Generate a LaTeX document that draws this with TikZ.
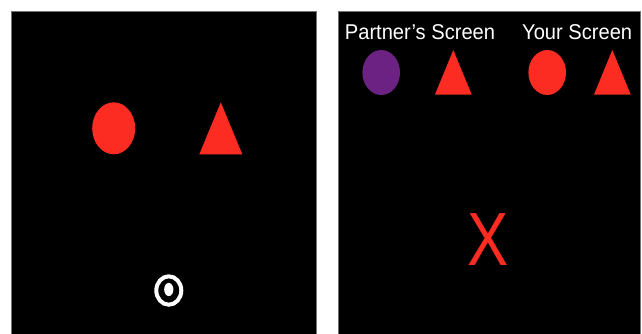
\documentclass[tikz,border=0pt]{standalone}
\usepackage{fontspec}
\setmainfont{Liberation Sans}
\definecolor{shapered}{RGB}{252,44,34}
\definecolor{shapepurple}{RGB}{108,34,130}
\begin{document}
\begin{tikzpicture}[x=1pt,y=-1pt,
  panel/.style={fill=black,draw=black!55,line width=0.6pt},
  label/.style={text=white,font=\fontsize{21.4}{24}\selectfont,inner sep=0pt,xscale=0.94,anchor=base},
  redshape/.style={fill=shapered},
  purpleshape/.style={fill=shapepurple}]
\useasboundingbox (0,0) rectangle (642,333);
\fill[white] (0,0) rectangle (642,333);
% panels
\filldraw[panel] (11.5,11.5) rectangle (316,340);
\filldraw[panel] (338,11.5) rectangle (640,340);
% left panel
\fill[redshape] (113.7,128.3) ellipse [x radius=21.5, y radius=26];
\fill[redshape] (220.8,102.3) -- (242.3,154.3) -- (199.3,154.3) -- cycle;
\draw[white,line width=4] (168.8,290.5) ellipse [x radius=12.5, y radius=14.2];
\fill[white] (168.8,289.5) ellipse [x radius=4.6, y radius=6.6];
% right panel
\node[label] (partner) at (420,39.3) {Partner’s Screen};
\node[label] (your) at (577.2,39.3) {Your Screen};
\fill[purpleshape] (381.2,72.5) ellipse [x radius=18.8, y radius=22.5];
\fill[redshape] (453.3,50) -- (471.7,94.5) -- (435,94.5) -- cycle;
\fill[redshape] (547.2,72.5) ellipse [x radius=18.8, y radius=22.5];
\fill[redshape] (612.3,50) -- (630.7,94.5) -- (594,94.5) -- cycle;
\node[text=shapered,font=\fontsize{75.4}{80}\selectfont,inner sep=0pt,xscale=0.82] (cross) at (488.3,239.7) {X};
\end{tikzpicture}
\end{document}
